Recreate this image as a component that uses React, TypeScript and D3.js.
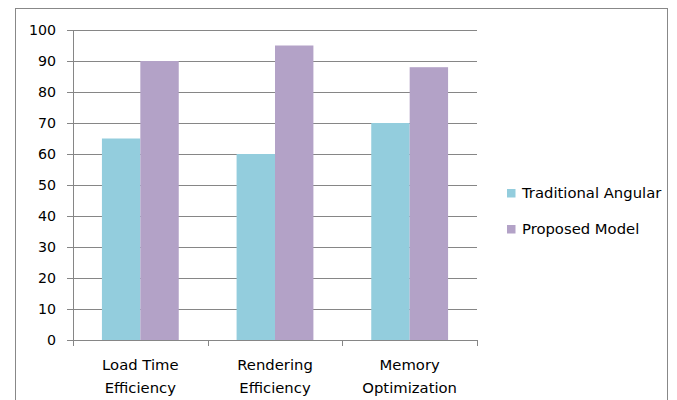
import React from "react";
import * as d3 from "d3";

const categories = [["Load Time", "Efficiency"], ["Rendering", "Efficiency"], ["Memory", "Optimization"]];
const seriesNames = ["Traditional Angular", "Proposed Model"];
const traditional = [65, 60, 70];
const proposed = [90, 95, 88];
const yTicks = [0, 10, 20, 30, 40, 50, 60, 70, 80, 90, 100];
const colors = ["#93CDDD", "#B3A2C7"];

export default function App() {
  const W = 677, H = 400;
  const left = 73, right = 477, top = 30, bottom = 340;
  const font = "'DejaVu Sans', sans-serif";
  const fsTick = 14.2;
  const fs = 14.8;
  const x = d3.scaleBand<number>().domain([0, 1, 2]).range([left, right]).paddingInner(0).paddingOuter(0);
  const inner = d3.scaleBand<number>().domain([0, 1]).range([0, x.bandwidth()]).paddingInner(0).paddingOuter(0.753);
  const y = d3.scaleLinear().domain([0, 100]).range([bottom, top]);
  const series = [traditional, proposed];
  return (
    <svg width={W} height={H} style={{ position: "absolute", left: 0, top: 0 }}>
      <rect x={0} y={0} width={W} height={H} fill="#fff" />
      <rect x={15.5} y={8.5} width={652} height={400} fill="#fff" stroke="#888" strokeWidth={1} />
      {yTicks.map((t) => (
        <g key={t}>
          {t > 0 && <line x1={left} x2={right} y1={Math.round(y(t)) + 0.5} y2={Math.round(y(t)) + 0.5} stroke="#868686" />}
          <line x1={left - 6} x2={left} y1={Math.round(y(t)) + 0.5} y2={Math.round(y(t)) + 0.5} stroke="#868686" />
          <text x={56} y={y(t)} dy="0.35em" textAnchor="end" fontFamily={font} fontSize={fsTick} fill="#000">{t}</text>
        </g>
      ))}
      {series.map((vals, si) =>
        vals.map((v, ci) => (
          <rect key={`${si}-${ci}`} x={(x(ci) as number) + (inner(si) as number)} y={y(v)} width={inner.bandwidth()} height={bottom - y(v)} fill={colors[si]} />
        ))
      )}
      <line x1={left + 0.5} x2={left + 0.5} y1={top} y2={bottom} stroke="#868686" />
      <line x1={left} x2={right} y1={bottom + 0.5} y2={bottom + 0.5} stroke="#868686" />
      {[0, 1, 2, 3].map((i) => {
        const xx = Math.round(i < 3 ? (x(i) as number) : right) + 0.5;
        return <line key={i} x1={xx} x2={xx} y1={bottom} y2={bottom + 6} stroke="#868686" />;
      })}
      {categories.map((lines, ci) => (
        <text key={ci} x={(x(ci) as number) + x.bandwidth() / 2} textAnchor="middle" fontFamily={font} fontSize={fs} fill="#000">
          {lines.map((l, li) => (
            <tspan key={li} x={(x(ci) as number) + x.bandwidth() / 2} y={370 + li * 23}>{l}</tspan>
          ))}
        </text>
      ))}
      {seriesNames.map((n, i) => (
        <g key={n}>
          <rect x={507} y={189 + i * 36} width={8.5} height={8.5} fill={colors[i]} />
          <text x={522} y={193 + i * 35.5} dy="0.35em" fontFamily={font} fontSize={fs} fill="#000">{n}</text>
        </g>
      ))}
    </svg>
  );
}
